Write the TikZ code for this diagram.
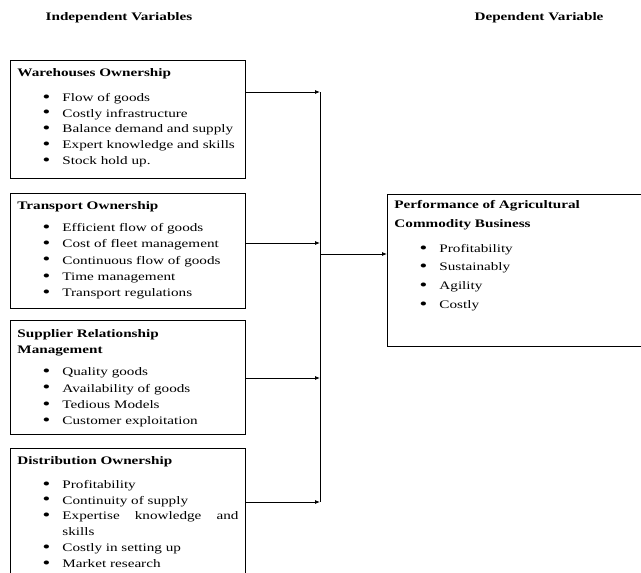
\documentclass[tikz,border=0pt]{standalone}
\usepackage{fontspec}
\setmainfont{Liberation Serif}[FakeStretch=1.32]
\usetikzlibrary{arrows.meta,positioning}

\newcommand{\vdot}{\raisebox{-0.9pt}{\scalebox{1.45}{\textbullet}}}
\newcommand{\vbul}[1]{\par\hangindent=45pt\hangafter=1\noindent\hspace*{45pt}\llap{\vdot\hspace{12pt}}#1}
\newcommand{\varcell}[4]{\parbox[t][#1][t]{#2}{\fontsize{11.5}{#3}\selectfont #4}}

\begin{document}
\begin{tikzpicture}[x=1pt,y=-1pt,
varbox/.style={draw,line width=0.9pt,anchor=north west,inner xsep=7pt,inner ysep=0pt},
link/.style={line width=0.8pt,-{Latex[length=5pt,width=4pt]}},
trunk/.style={line width=0.8pt},
head/.style={font=\bfseries\fontsize{11.5}{14}\selectfont}]
\clip(0,0)rectangle(641,573);
\node[head](indep)at(119,18){Independent Variables};
\node[head](dep)at(539,18){Dependent Variable};
% independent variables
\node[varbox](ware)at(10,60){\varcell{118pt}{221pt}{15.8pt}{\rule{0pt}{16pt}\textbf{Warehouses Ownership}\par\vspace{9pt}
\vbul{Flow of goods}\vbul{Costly infrastructure}\vbul{Balance demand and supply}
\vbul{Expert knowledge and skills}\vbul{Stock hold up.}}};
\node[varbox](trans)at(10,193){\varcell{115pt}{221pt}{16.2pt}{\rule{0pt}{16pt}\textbf{Transport Ownership}\par\vspace{6pt}
\vbul{Efficient flow of goods}\vbul{Cost of fleet management}\vbul{Continuous flow of goods}
\vbul{Time management}\vbul{Transport regulations}}};
\node[varbox](supp)at(10,320){\varcell{114pt}{221pt}{16.2pt}{\rule{0pt}{17pt}\textbf{Supplier Relationship\\Management}\par\vspace{6pt}
\vbul{Quality goods}\vbul{Availability of goods}\vbul{Tedious Models}\vbul{Customer exploitation}}};
\node[varbox](dist)at(10,448){\varcell{140pt}{221pt}{15.8pt}{\rule{0pt}{16pt}\textbf{Distribution Ownership}\par\vspace{8pt}
\vbul{Profitability}\vbul{Continuity of supply}\vbul{Expertise knowledge and skills}
\vbul{Costly in setting up}\vbul{Market research}}};
% dependent variable
\node[varbox](perf)at(387,194){\varcell{152pt}{250pt}{19pt}{\rule{0pt}{14pt}\textbf{Performance of Agricultural\\Commodity Business}\par\vspace{6pt}
\baselineskip=18.7pt
\vbul{Profitability}\vbul{Sustainably}\vbul{Agility}\vbul{Costly}}};
% connectors
\coordinate(j1)at(320,92);
\coordinate(j2)at(320,243);
\coordinate(j3)at(320,378);
\coordinate(j4)at(320,502);
\coordinate(jout)at(320,254);
\draw[link](j1-|ware.east)--(j1);
\draw[link](j2-|trans.east)--(j2);
\draw[link](j3-|supp.east)--(j3);
\draw[link](j4-|dist.east)--(j4);
\draw[trunk](j1)--(j4);
\draw[link](jout)--(jout-|perf.west);
\end{tikzpicture}
\end{document}
